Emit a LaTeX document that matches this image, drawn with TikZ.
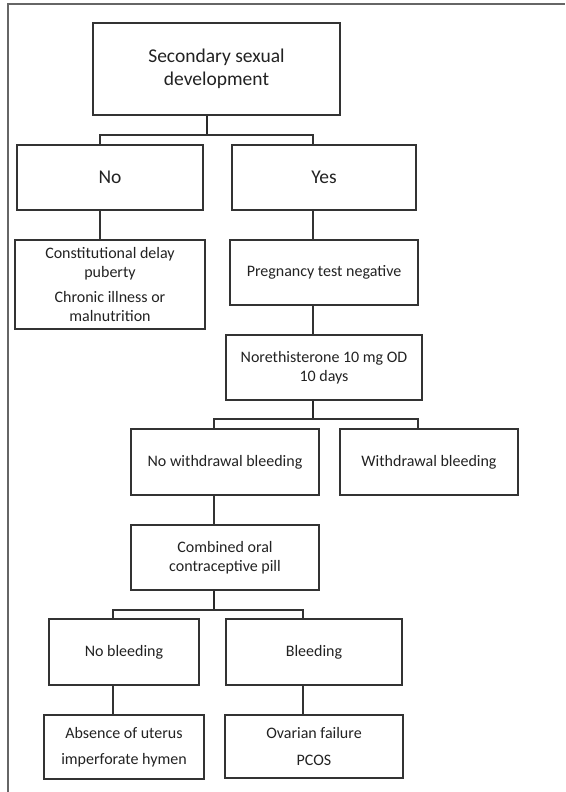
\documentclass[tikz,border=0pt]{standalone}
\usepackage{fontspec}
\setmainfont{Carlito}
\definecolor{ln}{HTML}{333333}
\definecolor{tx}{HTML}{222222}
\definecolor{fr}{HTML}{666666}
\begin{document}
\begin{tikzpicture}[x=1pt,y=1pt,
  box/.style={draw=ln, line width=1.1pt, rectangle, align=center, inner sep=0pt,
    text=tx, font=\fontsize{16}{19.5}\selectfont},
  bigbox/.style={box, font=\fontsize{19.5}{23}\selectfont},
  conn/.style={draw=ln, line width=1.1pt},
  stem/.style={draw=ln!80!black, line width=2pt}]
\useasboundingbox (0,0) rectangle (565,-792);
\draw[fr, line width=2pt] (8,-792) -- (8,-4.5) -- (565,-4.5);

\node[bigbox, minimum width=247, minimum height=92] (top) at (216.5,-69) {Secondary sexual\\development};
\node[bigbox, minimum width=186, minimum height=65] (no) at (110,-177.5) {No};
\node[bigbox, minimum width=184, minimum height=65] (yes) at (324,-177.5) {Yes};
\node[box, minimum width=190, minimum height=89] (const) at (110,-284.5) {Constitutional delay\\puberty\\[5pt]Chronic illness or\\malnutrition};
\node[box, minimum width=188, minimum height=65] (preg) at (324,-272.5) {Pregnancy test negative};
\node[box, minimum width=196, minimum height=65] (nor) at (324,-367.5) {Norethisterone 10 mg OD\\10 days};
\node[box, minimum width=188, minimum height=66] (now) at (225,-462) {No withdrawal bleeding};
\node[box, minimum width=178, minimum height=66] (wb) at (429,-462) {Withdrawal bleeding};
\node[box, minimum width=188, minimum height=65] (coc) at (225,-557.5) {Combined oral\\contraceptive pill};
\node[box, minimum width=150, minimum height=66] (nob) at (124,-652) {No bleeding};
\node[box, minimum width=176, minimum height=66] (bl) at (314,-652) {Bleeding};
\node[box, minimum width=160, minimum height=64] (abs) at (124,-747) {Absence of uterus\\[6.5pt]imperforate hymen};
\node[box, minimum width=178, minimum height=63] (ov) at (314,-746.5) {Ovarian failure\\[7pt]PCOS};

% level 1
\coordinate (j1) at (207,-135);
\coordinate (l1) at (100,-135);
\coordinate (r1) at (313,-135);
\draw[stem] (top.south -| j1) -- (j1);
\draw[conn] (no.north -| l1) -- (l1) -- (r1) -- (yes.north -| r1);
\draw[conn] (no.south -| l1) -- (const.north -| l1);
\draw[conn] (yes.south -| r1) -- (preg.north -| r1);
\draw[conn] (preg.south -| r1) -- (nor.north -| r1);

% level 2
\coordinate (j2) at (313,-419);
\coordinate (l2) at (214,-419);
\coordinate (r2) at (418,-419);
\draw[stem] (nor.south -| j2) -- (j2);
\draw[conn] (now.north -| l2) -- (l2) -- (r2) -- (wb.north -| r2);
\draw[conn] (now.south -| l2) -- (coc.north -| l2);

% level 3
\coordinate (j3) at (214,-610);
\coordinate (l3) at (113,-610);
\coordinate (r3) at (303,-610);
\draw[stem] (coc.south -| j3) -- (j3);
\draw[conn] (nob.north -| l3) -- (l3) -- (r3) -- (bl.north -| r3);
\draw[conn] (nob.south -| l3) -- (abs.north -| l3);
\draw[conn] (bl.south -| r3) -- (ov.north -| r3);
\end{tikzpicture}
\end{document}
